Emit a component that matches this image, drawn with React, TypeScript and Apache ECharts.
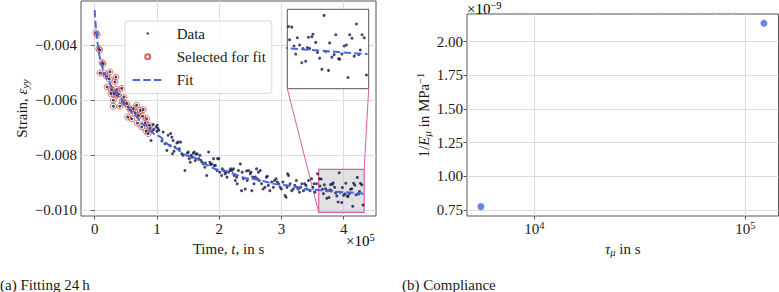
import React, { useEffect, useRef } from "react";
import * as echarts from "echarts";

// Creep test: measurements inside the fit window (time in s, strain ε_yy)
const selectedTime = [2000, 4000, 6500, 8000, 8500, 12000, 13500, 15500, 19000, 20000, 23500, 24500, 26000, 27000, 30000, 30000, 31000, 32500, 34000, 35500, 36000, 38000, 40500, 43500, 44000, 47000, 47000, 51500, 53000, 54000, 58000, 59500, 62000, 65000, 67500, 68500, 70000, 73000, 75500, 77000, 78000, 81000, 82500, 83500, 86000, 88000, 89000];
const selectedStrain = [-0.00355, -0.00363, -0.00413, -0.00418, -0.00501, -0.00464, -0.00468, -0.00503, -0.00513, -0.00552, -0.00523, -0.00497, -0.00576, -0.00561, -0.006, -0.00622, -0.00576, -0.00534, -0.00516, -0.00561, -0.00582, -0.00578, -0.00622, -0.00557, -0.00603, -0.00588, -0.0061, -0.00612, -0.00661, -0.00625, -0.00637, -0.00667, -0.0063, -0.00646, -0.00618, -0.00683, -0.00655, -0.00637, -0.00697, -0.00658, -0.00634, -0.00683, -0.00712, -0.00667, -0.00721, -0.00691, -0.00703];

// Remaining measurements
const restTime = [90500, 92000, 94000, 95000, 98500, 100000, 100500, 101500, 103000, 108000, 110000, 113000, 116000, 118000, 121000, 122000, 124000, 125000, 126000, 127500, 129000, 132000, 134000, 136000, 138000, 140000, 142000, 145000, 149000, 150500, 152000, 153500, 155000, 156500, 158500, 160000, 161500, 163000, 164500, 167000, 169000, 170500, 172500, 175000, 177000, 178000, 180000, 183000, 185000, 186000, 188000, 191000, 192000, 194000, 196500, 197500, 199500, 201000, 204000, 205000, 207000, 209500, 210500, 212500, 215000, 217500, 218500, 220500, 223000, 224000, 226000, 228000, 229000, 231000, 234000, 236000, 237000, 239000, 242000, 244000, 245000, 247000, 250000, 251000, 252500, 254000, 256000, 258000, 260000, 261500, 263000, 264500, 266000, 268000, 270500, 273500, 276000, 277500, 279000, 281500, 284500, 287000, 289000, 291500, 293500, 295500, 298000, 300000, 302500, 306000, 307500, 309000, 310000, 311500, 314000, 316500, 319000, 321500, 324000, 325500, 327000, 329000, 331000, 333000, 335500, 337500, 339500, 341000, 343500, 346000, 348500, 350500, 352500, 354000, 356500, 358000, 361000, 362000, 364000, 366000, 367500, 369000, 371000, 373000, 374000, 376500, 378000, 379000, 380000, 382000, 383000, 385500, 387000, 389000, 391000, 393000, 394500, 397000, 398000, 400000, 402000, 403500, 406000, 407000, 409000, 411000, 413000, 414500, 416000, 418000, 420000, 422000, 424000, 425500, 427000, 429000, 431000];
const restStrain = [-0.00746, -0.00713, -0.00688, -0.00706, -0.00697, -0.00713, -0.00691, -0.00702, -0.00709, -0.00748, -0.00715, -0.00758, -0.00782, -0.00727, -0.00764, -0.00721, -0.00734, -0.00794, -0.00746, -0.00785, -0.0077, -0.00755, -0.00752, -0.00776, -0.00752, -0.00794, -0.008, -0.00855, -0.00792, -0.00788, -0.00812, -0.00825, -0.008, -0.00807, -0.00792, -0.00788, -0.00819, -0.00796, -0.00794, -0.00812, -0.008, -0.00818, -0.00825, -0.00831, -0.00843, -0.00828, -0.00873, -0.00788, -0.00825, -0.00833, -0.00831, -0.00812, -0.00837, -0.00837, -0.00855, -0.00812, -0.00812, -0.00861, -0.00873, -0.00849, -0.00855, -0.00867, -0.00861, -0.00879, -0.00861, -0.00855, -0.00849, -0.00855, -0.00849, -0.00873, -0.00891, -0.00879, -0.00903, -0.00855, -0.00831, -0.00928, -0.00861, -0.00885, -0.00922, -0.00857, -0.00891, -0.00855, -0.00867, -0.00861, -0.00928, -0.00879, -0.00903, -0.00879, -0.00849, -0.00885, -0.00861, -0.00891, -0.00855, -0.00903, -0.00922, -0.00916, -0.00879, -0.00876, -0.00909, -0.00928, -0.00897, -0.00916, -0.00891, -0.00885, -0.00897, -0.00903, -0.00916, -0.00922, -0.00897, -0.00946, -0.00952, -0.00916, -0.00867, -0.00873, -0.00903, -0.00928, -0.00922, -0.00909, -0.00891, -0.00916, -0.00922, -0.00934, -0.00916, -0.00903, -0.00928, -0.00903, -0.00909, -0.00922, -0.00891, -0.00928, -0.00885, -0.00916, -0.00903, -0.00934, -0.00903, -0.00867, -0.00885, -0.00911, -0.00886, -0.00923, -0.00939, -0.00907, -0.00921, -0.00956, -0.00928, -0.00953, -0.00926, -0.00906, -0.00928, -0.00905, -0.009, -0.00916, -0.00936, -0.00947, -0.00969, -0.00863, -0.00934, -0.00971, -0.00917, -0.00945, -0.0094, -0.00901, -0.00948, -0.00949, -0.00939, -0.00923, -0.00921, -0.00985, -0.00901, -0.00908, -0.00943, -0.0088, -0.0094, -0.00931, -0.00901, -0.00907, -0.0098];

// Fitted creep curve, sampled
const fitTime = [0, 2500, 5000, 7500, 10000, 15000, 20000, 30000, 40000, 50000, 60000, 80000, 100000, 125000, 150000, 200000, 250000, 300000, 350000, 400000, 432000];
const fitStrain = [-0.00273, -0.00345, -0.00397, -0.00436, -0.00465, -0.00498, -0.00522, -0.00559, -0.0059, -0.00619, -0.00644, -0.0069, -0.00728, -0.00769, -0.00802, -0.00852, -0.00885, -0.00907, -0.00925, -0.00934, -0.00939];

// Detail window shown in the inset
const detailTime = [360000, 433000];
const detailStrain = [-0.01007, -0.00851];

// Compliance spectrum: retardation times and compliances (MPa^-1)
const tau = [5570, 122500];
const compliance = [0.775e-9, 2.137e-9];

// Tick positions
const timeTicks = [0, 100000, 200000, 300000, 400000];
const strainTicks = [-0.01, -0.008, -0.006, -0.004];
const tauTicks = [10000, 100000];
const tauMinorTicks = [5000, 6000, 7000, 8000, 9000, 20000, 30000, 40000, 50000, 60000, 70000, 80000, 90000];
const complianceTicks = [0.75e-9, 1.0e-9, 1.25e-9, 1.5e-9, 1.75e-9, 2.0e-9];

const FONT = "'Liberation Serif', 'Times New Roman', serif";
const INK = "#1a1a1a";
const SPINE = "#555555";
const GRIDLINE = "#dcdcdc";
const PINK = "#e05aae";
const BLUE = "#4169e1";
const NAVY = "#17174d";

const rich = {
  n: { fontFamily: FONT, fontSize: 15, color: INK, lineHeight: 18 },
  i: { fontFamily: FONT, fontSize: 15, color: INK, lineHeight: 18, fontStyle: "italic" },
  sub: { fontFamily: FONT, fontSize: 10.5, color: INK, lineHeight: 10, fontStyle: "italic", verticalAlign: "bottom" },
  sup: { fontFamily: FONT, fontSize: 10.5, color: INK, lineHeight: 10, verticalAlign: "top" },
};
const labelFont = { fontFamily: FONT, fontSize: 15, color: INK };

// legend icons: 39 x 14 box, drawing kept in the left 30 px
const ICON_BOX = "M0 0M39 14";
const dotIcon = "path://" + ICON_BOX + "M13.7 7A1.3 1.3 0 1 0 16.3 7A1.3 1.3 0 1 0 13.7 7Z";
const ringIcon = "path://" + ICON_BOX + "M12.5 7A2.5 2.5 0 1 0 17.5 7A2.5 2.5 0 1 0 12.5 7Z";
const dashIcon = "path://" + ICON_BOX + "M0 6H7.4V8H0ZM10.6 6H18V8H10.6ZM21.2 6H28.6V8H21.2Z";

export default function App() {
  const ref = useRef<HTMLDivElement>(null);

  useEffect(() => {
    document.body.style.margin = "0";
    const chart = echarts.init(ref.current!, null, { renderer: "svg", width: 779, height: 292 });

    const selected = selectedTime.map((t, i) => [t, selectedStrain[i]]);
    const rest = restTime.map((t, i) => [t, restStrain[i]]);
    const all = selected.concat(rest);
    const fit = fitTime.map((t, i) => [t, fitStrain[i]]);
    const spectrum = tau.map((t, i) => [t, compliance[i]]);

    const hidden = {
      axisLine: { show: false },
      axisTick: { show: false },
      axisLabel: { show: false },
      splitLine: { show: false },
    };

    chart.setOption({
      animation: false,
      backgroundColor: "#ffffff",
      textStyle: { fontFamily: FONT, color: INK },
      grid: [
        { left: 81, top: 1, width: 295, height: 215, show: true, borderColor: SPINE, borderWidth: 1, backgroundColor: "transparent", outerBoundsMode: "none" },
        { left: 287.3, top: 9.3, width: 81.4, height: 79.4, show: true, borderColor: SPINE, borderWidth: 1, backgroundColor: "#ffffff", z: 1, outerBoundsMode: "none" },
        { left: 467, top: 14, width: 311.5, height: 202, show: true, borderColor: SPINE, borderWidth: 1, backgroundColor: "transparent", outerBoundsMode: "none" },
      ],
      xAxis: [
        {
          type: "value", gridIndex: 0, min: -22000, max: 452000,
          axisLine: { show: false },
          axisTick: { show: true, customValues: timeTicks, length: 3.5, lineStyle: { color: SPINE } },
          axisLabel: { customValues: timeTicks, margin: 4, ...labelFont, rich, formatter: (v: number) => "{n|" + Math.round(v / 100000) + "}" },
          splitLine: { show: true, lineStyle: { color: GRIDLINE, width: 1 } },
          name: "{n|Time, }{i|t}{n|, in s}", nameLocation: "middle", nameGap: 17,
          nameTextStyle: { ...labelFont, rich },
        },
        { type: "value", gridIndex: 1, min: detailTime[0], max: detailTime[1], ...hidden },
        {
          type: "log", gridIndex: 2, min: 4786, max: 143600, logBase: 10,
          axisLine: { show: false },
          axisTick: { show: true, customValues: tauTicks, length: 3.5, lineStyle: { color: SPINE } },
          axisLabel: {
            customValues: tauTicks, margin: 4, ...labelFont, rich,
            formatter: (v: number) => "{n|10}{sup|" + Math.round(Math.log10(v)) + "}",
          },
          splitLine: { show: true, lineStyle: { color: GRIDLINE, width: 1 } },
          name: "{i|τ}{sub|μ}{n| in s}", nameLocation: "middle", nameGap: 17,
          nameTextStyle: { ...labelFont, rich },
        },
        {
          type: "log", gridIndex: 2, min: 4786, max: 143600, logBase: 10,
          axisLine: { show: false },
          axisTick: { show: true, customValues: tauMinorTicks, length: 2, lineStyle: { color: "#c4c4c4" } },
          axisLabel: { show: false },
          splitLine: { show: false },
        },
      ],
      yAxis: [
        {
          type: "value", gridIndex: 0, min: -0.0102, max: -0.0024,
          axisLine: { show: false },
          axisTick: { show: true, customValues: strainTicks, length: 3.5, lineStyle: { color: SPINE } },
          axisLabel: {
            customValues: strainTicks, margin: 4, ...labelFont, rich,
            formatter: (v: number) => "{n|" + (v < 0 ? "\u2212" : "") + Math.abs(v).toFixed(3) + "}",
          },
          splitLine: { show: true, lineStyle: { color: GRIDLINE, width: 1 } },
          name: "{n|Strain, }{i|ε}{sub|yy}", nameLocation: "middle", nameGap: 50,
          nameTextStyle: { ...labelFont, rich },
        },
        { type: "value", gridIndex: 1, min: detailStrain[0], max: detailStrain[1], ...hidden },
        {
          type: "value", gridIndex: 2, min: 0.7055e-9, max: 2.205e-9,
          axisLine: { show: false },
          axisTick: { show: true, customValues: complianceTicks, length: 3.5, lineStyle: { color: SPINE } },
          axisLabel: {
            customValues: complianceTicks, margin: 4, ...labelFont, rich,
            formatter: (v: number) => "{n|" + (v / 1e-9).toFixed(2) + "}",
          },
          splitLine: { show: true, lineStyle: { color: GRIDLINE, width: 1 } },
          name: "{n|1/}{i|E}{sub|μ}{n| in MPa}{sup|\u22121}", nameLocation: "middle", nameGap: 34,
          nameTextStyle: { ...labelFont, rich },
        },
      ],
      legend: {
        show: true,
        orient: "vertical",
        left: 125,
        top: 21,
        padding: [5, 6, 6, 6.7],
        itemWidth: 39,
        itemHeight: 14,
        itemGap: 7.7,
        backgroundColor: "rgba(255,255,255,0.85)",
        borderColor: "#d6d6d6",
        borderWidth: 1,
        borderRadius: 3,
        textStyle: { fontFamily: FONT, fontSize: 15, color: INK, lineHeight: 14 },
        selectedMode: false,
        data: [
          { name: "Data", icon: dotIcon },
          { name: "Selected for fit", icon: ringIcon },
          { name: "Fit", icon: dashIcon, itemStyle: { color: BLUE, borderWidth: 0 } },
        ],
      },
      series: [
        {
          type: "scatter", name: "Data", xAxisIndex: 0, yAxisIndex: 0,
          data: all, symbol: "circle", symbolSize: 3,
          itemStyle: { color: NAVY }, z: 3,
          markArea: {
            silent: true,
            itemStyle: { color: "rgba(200,200,200,0.55)", borderColor: PINK, borderWidth: 1.2 },
            data: [[{ coord: [detailTime[0], detailStrain[1]] }, { coord: [detailTime[1], detailStrain[0]] }]],
          },
        },
        {
          type: "scatter", name: "Selected for fit", xAxisIndex: 0, yAxisIndex: 0,
          data: selected, symbol: "circle", symbolSize: 6,
          itemStyle: { color: "rgba(0,0,0,0)", borderColor: "#cc3d2b", borderWidth: 0.9 }, z: 2,
        },
        {
          type: "line", name: "Fit", xAxisIndex: 0, yAxisIndex: 0,
          data: fit, symbol: "none", showSymbol: false, smooth: 0.3, smoothMonotone: "x",
          lineStyle: { color: BLUE, width: 2, type: [7.4, 3.2] },
          itemStyle: { color: BLUE }, z: 4,
        },
        {
          type: "scatter", name: "Data (detail)", xAxisIndex: 1, yAxisIndex: 1,
          data: all, symbol: "circle", symbolSize: 3, clip: true,
          itemStyle: { color: NAVY }, z: 3,
        },
        {
          type: "line", name: "Fit (detail)", xAxisIndex: 1, yAxisIndex: 1,
          data: fit, symbol: "none", showSymbol: false, smooth: 0.3, clip: true,
          lineStyle: { color: BLUE, width: 2, type: [7.4, 3.2] }, z: 4,
        },
        {
          type: "scatter", name: "Compliance", xAxisIndex: 2, yAxisIndex: 2,
          data: spectrum, symbol: "circle", symbolSize: 7,
          itemStyle: { color: BLUE },
        },
      ],
    });

    // connector lines between the inset and the highlighted window
    const insetBL = chart.convertToPixel({ gridIndex: 1 }, [detailTime[0], detailStrain[0]]) as number[];
    const insetBR = chart.convertToPixel({ gridIndex: 1 }, [detailTime[1], detailStrain[0]]) as number[];
    const winBL = chart.convertToPixel({ gridIndex: 0 }, [detailTime[0], detailStrain[0]]) as number[];
    const winTR = chart.convertToPixel({ gridIndex: 0 }, [detailTime[1], detailStrain[1]]) as number[];

    chart.setOption({
      graphic: [
        { type: "line", z: 1, shape: { x1: insetBL[0], y1: insetBL[1], x2: winBL[0], y2: winBL[1] }, style: { stroke: PINK, lineWidth: 1 } },
        { type: "line", z: 1, shape: { x1: insetBR[0], y1: insetBR[1], x2: winTR[0], y2: winTR[1] }, style: { stroke: PINK, lineWidth: 1 } },
        { type: "text", x: 346, y: 241, style: { text: "{n|×10}{sup|5}", rich, verticalAlign: "middle" } },
        { type: "text", x: 467, y: 9, style: { text: "{n|×10}{sup|\u22129}", rich, verticalAlign: "middle" } },
        { type: "text", x: 0, y: 285, style: { text: "(a) Fitting 24\u2009h", fontFamily: FONT, fontSize: 15, fill: INK, verticalAlign: "middle" } },
        { type: "text", x: 402, y: 285, style: { text: "(b) Compliance", fontFamily: FONT, fontSize: 15, fill: INK, verticalAlign: "middle" } },
      ],
    });

    return () => chart.dispose();
  }, []);

  return (
    <div
      ref={ref}
      style={{ position: "fixed", left: 0, top: 0, width: 779, height: 292, background: "#ffffff" }}
    />
  );
}
